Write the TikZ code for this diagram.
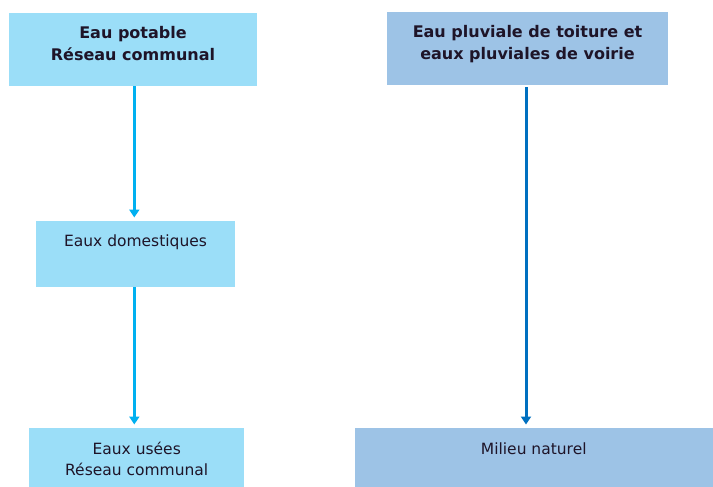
\documentclass[tikz,border=0pt]{standalone}
\usepackage{fontspec}
\setmainfont{DejaVu Sans}
\usepackage{xcolor}
\usetikzlibrary{arrows.meta}
\definecolor{bleuclair}{RGB}{155,222,248}
\definecolor{bleupluie}{RGB}{157,195,230}
\definecolor{flechecyan}{RGB}{0,176,240}
\definecolor{flechebleue}{RGB}{0,112,192}
\definecolor{texte}{RGB}{30,20,40}

\begin{document}
\begin{tikzpicture}[x=1pt, y=-1pt,
  boite/.style={rectangle, anchor=north, inner xsep=0pt, inner ysep=0pt, align=center, text=texte},
  titre/.style={font=\bfseries\fontsize{16}{22.2}\selectfont},
  normal/.style={font=\fontsize{15.5}{21.7}\selectfont},
  fleche/.style={line width=3pt, -{Triangle[width=10pt, length=8pt]}, shorten >=3.5pt}]
\useasboundingbox (0,0) rectangle (713,487);

% boites du haut
\node[boite, titre, fill=bleuclair, minimum width=248pt, text height=47.5pt, text depth=25.5pt] (potable) at (133,13) {Eau potable\\Réseau communal};
\node[boite, titre, fill=bleupluie, minimum width=281pt, text height=47.5pt, text depth=25.5pt] (pluviale) at (527.5,12) {Eau pluviale de toiture et\\eaux pluviales de voirie};
% boites du milieu et du bas
\node[boite, normal, fill=bleuclair, minimum width=199pt, text height=25pt, text depth=41pt] (domestiques) at (135.5,221) {Eaux domestiques};
\node[boite, normal, fill=bleuclair, minimum width=214.5pt, text height=47.7pt, text depth=11.3pt] (usees) at (136.7,428) {Eaux usées\\Réseau communal};
\node[boite, normal, fill=bleupluie, minimum width=358.5pt, text height=26pt, text depth=33pt] (naturel) at (533.75,428) {Milieu naturel};

\draw[fleche, flechecyan] ([xshift=1.3pt]potable.south) -- ([xshift=1.3pt]potable.south |- domestiques.north);
\draw[fleche, flechecyan] ([xshift=-1.2pt]domestiques.south) -- ([xshift=-1.2pt]domestiques.south |- usees.north);
\draw[fleche, flechebleue] ([xshift=-1.5pt,yshift=-2pt]pluviale.south) -- ([xshift=-1.5pt]pluviale.south |- naturel.north);
\end{tikzpicture}
\end{document}
